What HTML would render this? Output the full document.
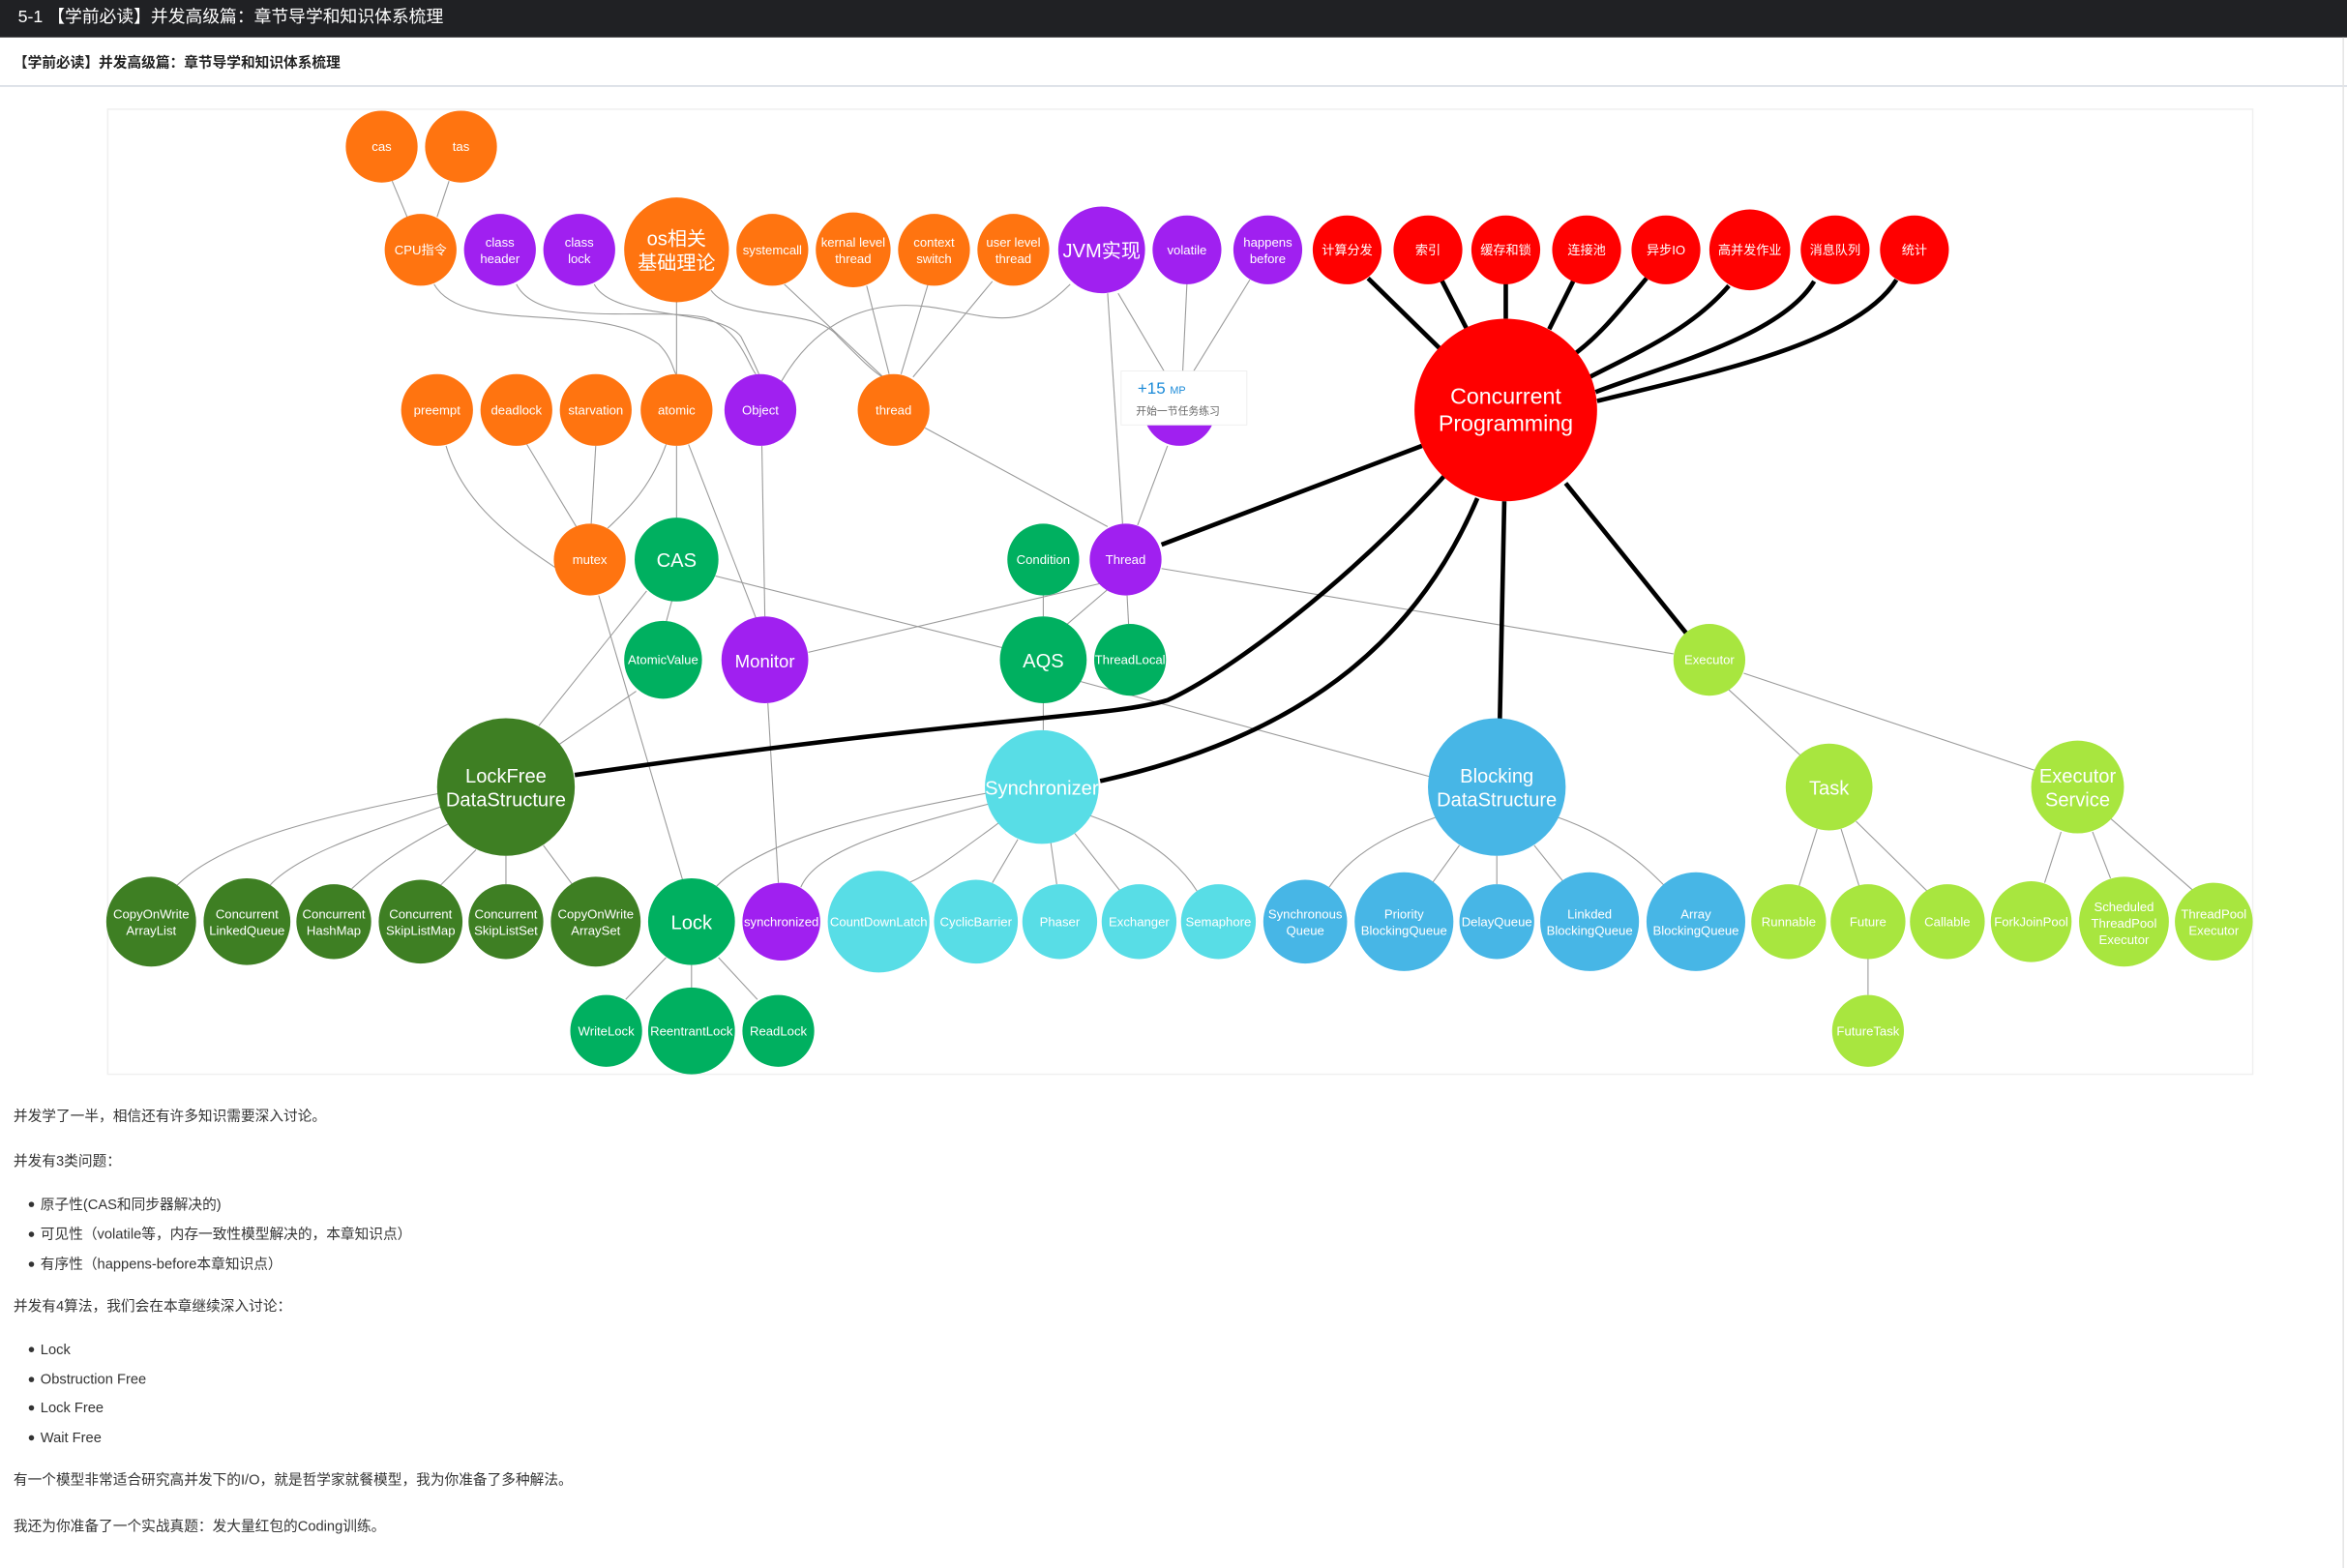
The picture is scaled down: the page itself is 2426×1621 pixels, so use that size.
<!DOCTYPE html>
<html><head><meta charset="utf-8"><style>
html,body{margin:0;padding:0;background:#fff;}
svg{display:block}
text{font-family:"Liberation Sans","Noto Sans CJK SC",sans-serif;}
.n{fill:#fff;text-anchor:middle;font-size:8.5px;}
.e{stroke:#9a9a9a;stroke-width:0.7;fill:none}
.k{stroke:#000;stroke-width:3;fill:none}
.t{font-size:9.5px;fill:#333}
</style></head><body>
<svg width="2426" height="1621" viewBox="0 0 1568 1048" preserveAspectRatio="none" xmlns="http://www.w3.org/2000/svg">
<rect x="0" y="0" width="1568" height="1048" fill="#fff"/>
<rect x="0" y="0" width="1568" height="25" fill="#202124"/>
<text x="12" y="15" style="font-size:11.5px;fill:#fff">5-1 【学前必读】并发高级篇：章节导学和知识体系梳理</text>
<text x="9" y="45" style="font-size:9.5px;fill:#222;font-weight:bold">【学前必读】并发高级篇：章节导学和知识体系梳理</text>
<line x1="0" y1="57.5" x2="1568" y2="57.5" stroke="#d6dce3" stroke-width="1"/>
<line x1="1565.5" y1="25" x2="1565.5" y2="1048" stroke="#e4e4e4" stroke-width="1"/>
<rect x="72" y="73" width="1433" height="645" fill="#fff" stroke="#f0f0f0" stroke-width="1"/>

<!-- thin edges -->
<g class="e">
<line x1="262" y1="121" x2="272" y2="145"/><line x1="300" y1="121" x2="292" y2="145"/>
<path d="M290,190 C310,225 400,200 440,230 C450,240 450,250 452,250"/>
<path d="M345,190 C360,220 430,205 470,212 C495,220 500,245 505,250"/>
<path d="M397,190 C410,215 480,205 495,225 C500,235 505,245 507,250"/>
<line x1="452" y1="202" x2="452" y2="250"/>
<path d="M475,194 C490,215 545,205 560,225 C575,240 585,250 590,252"/>
<line x1="524" y1="190" x2="590" y2="252"/><line x1="579" y1="191" x2="594" y2="250"/>
<line x1="620" y1="190" x2="602" y2="250"/><line x1="663" y1="188" x2="610" y2="252"/>
<path d="M522,255 C545,215 580,200 620,205 C660,210 680,225 715,190"/>
<line x1="740" y1="196" x2="750" y2="350"/><line x1="747" y1="196" x2="780" y2="252"/>
<line x1="793" y1="189" x2="790" y2="252"/><line x1="835" y1="187" x2="795" y2="252"/>
<line x1="780" y1="298" x2="760" y2="351"/>
<line x1="618" y1="286" x2="740" y2="352"/>
<path d="M298,298 C310,340 350,365 372,380"/>
<line x1="352" y1="297" x2="385" y2="352"/><line x1="398" y1="298" x2="395" y2="350"/>
<path d="M445,297 C435,325 420,340 406,353"/>
<line x1="452" y1="298" x2="452" y2="346"/>
<line x1="460" y1="297" x2="505" y2="413"/>
<line x1="509" y1="298" x2="511" y2="412"/>
<line x1="400" y1="398" x2="456" y2="588"/>
<line x1="478" y1="385" x2="670" y2="433"/>
<line x1="449" y1="401" x2="445" y2="416"/>
<line x1="425" y1="462" x2="370" y2="500"/>
<line x1="432" y1="395" x2="360" y2="485"/>
<line x1="540" y1="436" x2="735" y2="390"/>
<line x1="513" y1="470" x2="520" y2="590"/>
<line x1="697" y1="398" x2="697" y2="412"/>
<line x1="740" y1="394" x2="712" y2="418"/>
<line x1="753" y1="398" x2="754" y2="417"/>
<line x1="776" y1="380" x2="1118" y2="437"/>
<line x1="697" y1="470" x2="697" y2="488"/>
<line x1="720" y1="455" x2="955" y2="519"/>
<line x1="1155" y1="461" x2="1203" y2="505"/>
<line x1="1165" y1="450" x2="1360" y2="515"/>
<!-- lockfree children -->
<path d="M295,530 C220,545 150,560 118,592"/>
<path d="M298,538 C250,555 200,570 180,592"/>
<path d="M305,548 C270,565 250,580 235,594"/>
<line x1="318" y1="568" x2="294" y2="592"/>
<line x1="338" y1="572" x2="338" y2="591"/>
<line x1="363" y1="565" x2="383" y2="592"/>
<!-- synchronizer children -->
<path d="M660,530 C580,545 510,560 478,593"/>
<path d="M662,537 C590,555 545,570 535,593"/>
<path d="M670,548 C640,570 620,585 607,590"/>
<line x1="680" y1="561" x2="663" y2="590"/>
<line x1="702" y1="563" x2="706" y2="591"/>
<line x1="718" y1="557" x2="748" y2="595"/>
<path d="M728,545 C770,560 790,580 800,596"/>
<!-- blocking -->
<path d="M960,546 C920,560 900,575 888,593"/>
<line x1="975" y1="565" x2="957" y2="590"/>
<line x1="1000" y1="572" x2="1000" y2="591"/>
<line x1="1025" y1="565" x2="1045" y2="590"/>
<path d="M1040,546 C1080,560 1100,580 1112,592"/>
<line x1="1214" y1="554" x2="1202" y2="592"/>
<line x1="1230" y1="554" x2="1242" y2="592"/>
<line x1="1240" y1="549" x2="1290" y2="598"/>
<line x1="1377" y1="556" x2="1366" y2="590"/>
<line x1="1398" y1="556" x2="1410" y2="587"/>
<line x1="1410" y1="547" x2="1465" y2="595"/>
<line x1="1248" y1="641" x2="1248" y2="665"/>
<line x1="445" y1="640" x2="418" y2="668"/>
<line x1="462" y1="645" x2="462" y2="660"/>
<line x1="480" y1="640" x2="506" y2="668"/>
</g>
<!-- thick edges -->
<g class="k">
<line x1="914" y1="186" x2="963" y2="234"/><line x1="963" y1="187" x2="980" y2="220"/>
<line x1="1006" y1="189" x2="1006" y2="213"/><line x1="1051" y1="188" x2="1035" y2="220"/>
<path d="M1100,186 C1080,210 1068,225 1050,238"/>
<path d="M1155,191 C1130,220 1095,235 1062,252"/>
<path d="M1212,188 C1190,225 1110,245 1066,262"/>
<path d="M1267,187 C1240,230 1140,250 1067,268"/>
<line x1="950" y1="298" x2="776" y2="364"/>
<path d="M965,318 C900,390 820,450 780,468 C740,480 660,478 384,518"/>
<path d="M987,333 C950,420 880,490 735,522"/>
<line x1="1005" y1="335" x2="1002" y2="482"/>
<line x1="1046" y1="323" x2="1128" y2="425"/>
</g>

<!-- nodes -->
<g>
<circle cx="255" cy="98" r="24" fill="#ff7410"/><text class="n" x="255" y="101">cas</text>
<circle cx="308" cy="98" r="24" fill="#ff7410"/><text class="n" x="308" y="101">tas</text>
<circle cx="281" cy="167" r="24" fill="#ff7410"/><text class="n" x="281" y="170">CPU指令</text>
<circle cx="334" cy="167" r="24" fill="#a020f0"/><text class="n" x="334" y="165">class</text><text class="n" x="334" y="176">header</text>
<circle cx="387" cy="167" r="24" fill="#a020f0"/><text class="n" x="387" y="165">class</text><text class="n" x="387" y="176">lock</text>
<circle cx="452" cy="167" r="35" fill="#ff7410"/><text class="n" x="452" y="164" style="font-size:13px">os相关</text><text class="n" x="452" y="180" style="font-size:13px">基础理论</text>
<circle cx="516" cy="167" r="24" fill="#ff7410"/><text class="n" x="516" y="170">systemcall</text>
<circle cx="570" cy="167" r="25" fill="#ff7410"/><text class="n" x="570" y="165">kernal level</text><text class="n" x="570" y="176">thread</text>
<circle cx="624" cy="167" r="24" fill="#ff7410"/><text class="n" x="624" y="165">context</text><text class="n" x="624" y="176">switch</text>
<circle cx="677" cy="167" r="24" fill="#ff7410"/><text class="n" x="677" y="165">user level</text><text class="n" x="677" y="176">thread</text>
<circle cx="736" cy="167" r="29" fill="#a020f0"/><text class="n" x="736" y="172" style="font-size:13px">JVM实现</text>
<circle cx="793" cy="167" r="23" fill="#a020f0"/><text class="n" x="793" y="170">volatile</text>
<circle cx="847" cy="167" r="23" fill="#a020f0"/><text class="n" x="847" y="165">happens</text><text class="n" x="847" y="176">before</text>
<circle cx="900" cy="167" r="23" fill="#ff0000"/><text class="n" x="900" y="170">计算分发</text>
<circle cx="954" cy="167" r="23" fill="#ff0000"/><text class="n" x="954" y="170">索引</text>
<circle cx="1006" cy="167" r="23" fill="#ff0000"/><text class="n" x="1006" y="170">缓存和锁</text>
<circle cx="1060" cy="167" r="23" fill="#ff0000"/><text class="n" x="1060" y="170">连接池</text>
<circle cx="1113" cy="167" r="23" fill="#ff0000"/><text class="n" x="1113" y="170">异步IO</text>
<circle cx="1169" cy="167" r="27" fill="#ff0000"/><text class="n" x="1169" y="170">高并发作业</text>
<circle cx="1226" cy="167" r="23" fill="#ff0000"/><text class="n" x="1226" y="170">消息队列</text>
<circle cx="1279" cy="167" r="23" fill="#ff0000"/><text class="n" x="1279" y="170">统计</text>
<circle cx="1006" cy="274" r="61" fill="#ff0000"/><text class="n" x="1006" y="270" style="font-size:15px">Concurrent</text><text class="n" x="1006" y="288" style="font-size:15px">Programming</text>

<circle cx="292" cy="274" r="24" fill="#ff7410"/><text class="n" x="292" y="277">preempt</text>
<circle cx="345" cy="274" r="24" fill="#ff7410"/><text class="n" x="345" y="277">deadlock</text>
<circle cx="398" cy="274" r="24" fill="#ff7410"/><text class="n" x="398" y="277">starvation</text>
<circle cx="452" cy="274" r="24" fill="#ff7410"/><text class="n" x="452" y="277">atomic</text>
<circle cx="508" cy="274" r="24" fill="#a020f0"/><text class="n" x="508" y="277">Object</text>
<circle cx="597" cy="274" r="24" fill="#ff7410"/><text class="n" x="597" y="277">thread</text>
<circle cx="788" cy="274" r="24" fill="#a020f0"/>

<circle cx="394" cy="374" r="24" fill="#ff7410"/><text class="n" x="394" y="377">mutex</text>
<circle cx="452" cy="374" r="28" fill="#00b060"/><text class="n" x="452" y="379" style="font-size:13px">CAS</text>
<circle cx="697" cy="374" r="24" fill="#00b060"/><text class="n" x="697" y="377">Condition</text>
<circle cx="752" cy="374" r="24" fill="#a020f0"/><text class="n" x="752" y="377">Thread</text>

<circle cx="443" cy="441" r="26" fill="#00b060"/><text class="n" x="443" y="444">AtomicValue</text>
<circle cx="511" cy="441" r="29" fill="#a020f0"/><text class="n" x="511" y="446" style="font-size:12px">Monitor</text>
<circle cx="697" cy="441" r="29" fill="#00b060"/><text class="n" x="697" y="446" style="font-size:13px">AQS</text>
<circle cx="755" cy="441" r="24" fill="#00b060"/><text class="n" x="755" y="444">ThreadLocal</text>
<circle cx="1142" cy="441" r="24" fill="#a8e63f"/><text class="n" x="1142" y="444">Executor</text>

<circle cx="338" cy="526" r="46" fill="#3e7f23"/><text class="n" x="338" y="523" style="font-size:13px">LockFree</text><text class="n" x="338" y="539" style="font-size:13px">DataStructure</text>
<circle cx="696" cy="526" r="38" fill="#58dde6"/><text class="n" x="696" y="531" style="font-size:13px">Synchronizer</text>
<circle cx="1000" cy="526" r="46" fill="#47b6e6"/><text class="n" x="1000" y="523" style="font-size:13px">Blocking</text><text class="n" x="1000" y="539" style="font-size:13px">DataStructure</text>
<circle cx="1222" cy="526" r="29" fill="#a8e63f"/><text class="n" x="1222" y="531" style="font-size:13px">Task</text>
<circle cx="1388" cy="526" r="31" fill="#a8e63f"/><text class="n" x="1388" y="523" style="font-size:13px">Executor</text><text class="n" x="1388" y="539" style="font-size:13px">Service</text>

<circle cx="101" cy="616" r="30" fill="#3e7f23"/><text class="n" x="101" y="614">CopyOnWrite</text><text class="n" x="101" y="625">ArrayList</text>
<circle cx="165" cy="616" r="29" fill="#3e7f23"/><text class="n" x="165" y="614">Concurrent</text><text class="n" x="165" y="625">LinkedQueue</text>
<circle cx="223" cy="616" r="25" fill="#3e7f23"/><text class="n" x="223" y="614">Concurrent</text><text class="n" x="223" y="625">HashMap</text>
<circle cx="281" cy="616" r="28" fill="#3e7f23"/><text class="n" x="281" y="614">Concurrent</text><text class="n" x="281" y="625">SkipListMap</text>
<circle cx="338" cy="616" r="25" fill="#3e7f23"/><text class="n" x="338" y="614">Concurrent</text><text class="n" x="338" y="625">SkipListSet</text>
<circle cx="398" cy="616" r="30" fill="#3e7f23"/><text class="n" x="398" y="614">CopyOnWrite</text><text class="n" x="398" y="625">ArraySet</text>
<circle cx="462" cy="616" r="29" fill="#00b060"/><text class="n" x="462" y="621" style="font-size:13px">Lock</text>
<circle cx="522" cy="616" r="26" fill="#a020f0"/><text class="n" x="522" y="619">synchronized</text>
<circle cx="587" cy="616" r="34" fill="#58dde6"/><text class="n" x="587" y="619">CountDownLatch</text>
<circle cx="652" cy="616" r="28" fill="#58dde6"/><text class="n" x="652" y="619">CyclicBarrier</text>
<circle cx="708" cy="616" r="25" fill="#58dde6"/><text class="n" x="708" y="619">Phaser</text>
<circle cx="761" cy="616" r="25" fill="#58dde6"/><text class="n" x="761" y="619">Exchanger</text>
<circle cx="814" cy="616" r="25" fill="#58dde6"/><text class="n" x="814" y="619">Semaphore</text>
<circle cx="872" cy="616" r="28" fill="#47b6e6"/><text class="n" x="872" y="614">Synchronous</text><text class="n" x="872" y="625">Queue</text>
<circle cx="938" cy="616" r="33" fill="#47b6e6"/><text class="n" x="938" y="614">Priority</text><text class="n" x="938" y="625">BlockingQueue</text>
<circle cx="1000" cy="616" r="25" fill="#47b6e6"/><text class="n" x="1000" y="619">DelayQueue</text>
<circle cx="1062" cy="616" r="33" fill="#47b6e6"/><text class="n" x="1062" y="614">Linkded</text><text class="n" x="1062" y="625">BlockingQueue</text>
<circle cx="1133" cy="616" r="33" fill="#47b6e6"/><text class="n" x="1133" y="614">Array</text><text class="n" x="1133" y="625">BlockingQueue</text>
<circle cx="1195" cy="616" r="25" fill="#a8e63f"/><text class="n" x="1195" y="619">Runnable</text>
<circle cx="1248" cy="616" r="25" fill="#a8e63f"/><text class="n" x="1248" y="619">Future</text>
<circle cx="1301" cy="616" r="25" fill="#a8e63f"/><text class="n" x="1301" y="619">Callable</text>
<circle cx="1357" cy="616" r="27" fill="#a8e63f"/><text class="n" x="1357" y="619">ForkJoinPool</text>
<circle cx="1419" cy="616" r="30" fill="#a8e63f"/><text class="n" x="1419" y="609">Scheduled</text><text class="n" x="1419" y="620">ThreadPool</text><text class="n" x="1419" y="631">Executor</text>
<circle cx="1479" cy="616" r="26" fill="#a8e63f"/><text class="n" x="1479" y="614">ThreadPool</text><text class="n" x="1479" y="625">Executor</text>

<circle cx="405" cy="689" r="24" fill="#00b060"/><text class="n" x="405" y="692">WriteLock</text>
<circle cx="462" cy="689" r="29" fill="#00b060"/><text class="n" x="462" y="692">ReentrantLock</text>
<circle cx="520" cy="689" r="24" fill="#00b060"/><text class="n" x="520" y="692">ReadLock</text>
<circle cx="1248" cy="689" r="24" fill="#a8e63f"/><text class="n" x="1248" y="692">FutureTask</text>
</g>

<!-- tooltip -->
<rect x="749" y="248" width="84" height="36" fill="#fff" stroke="#eee" stroke-width="0.6"/>
<text x="760" y="263" style="font-size:11px;fill:#1a8ad8">+15 <tspan style="font-size:7px">MP</tspan></text>
<text x="759" y="277" style="font-size:7px;fill:#666">开始一节任务练习</text>

<!-- body text -->
<g class="t">
<text x="9" y="749">并发学了一半，相信还有许多知识需要深入讨论。</text>
<text x="9" y="779">并发有3类问题：</text>
<text x="27" y="808">原子性(CAS和同步器解决的)</text>
<text x="27" y="828">可见性（volatile等，内存一致性模型解决的，本章知识点）</text>
<text x="27" y="848">有序性（happens-before本章知识点）</text>
<text x="9" y="876">并发有4算法，我们会在本章继续深入讨论：</text>
<text x="27" y="905">Lock</text>
<text x="27" y="925">Obstruction Free</text>
<text x="27" y="944">Lock Free</text>
<text x="27" y="964">Wait Free</text>
<text x="9" y="992">有一个模型非常适合研究高并发下的I/O，就是哲学家就餐模型，我为你准备了多种解法。</text>
<text x="9" y="1023">我还为你准备了一个实战真题：发大量红包的Coding训练。</text>
</g>
<g fill="#333">
<circle cx="21" cy="805" r="1.8"/><circle cx="21" cy="825" r="1.8"/><circle cx="21" cy="845" r="1.8"/>
<circle cx="21" cy="902" r="1.8"/><circle cx="21" cy="922" r="1.8"/><circle cx="21" cy="941" r="1.8"/><circle cx="21" cy="961" r="1.8"/>
</g>
</svg>
</body></html>
